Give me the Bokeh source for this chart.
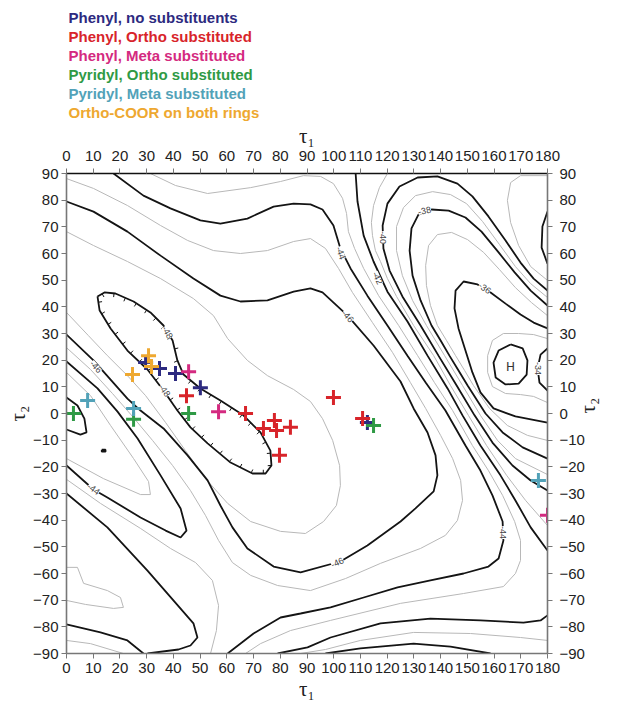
import math
from bokeh.plotting import figure
from bokeh.models import Range1d, LinearAxis, FixedTicker, Label, Title
from bokeh.embed import file_html
from bokeh.resources import INLINE

# ---------------- data (tau1, tau2 in degrees) ----------------
# energy contour lines: black = even levels (kcal/mol), grey = odd levels
m48_t1 = [11.6, 14.2, 18.3, 25.1, 31.4, 36.3, 39.7, 41.5, 43.8, 50.1, 57.6, 66.2, 72.6, 76.3, 76.7, 74.5, 69.6, 61.4, 52.8, 46.4, 41.5, 36.3, 30.3, 22.8, 16.5, 12.4, 11.6]
m48_t2 = [43.9, 45.4, 45.0, 42.0, 37.9, 33.0, 27.4, 19.9, 14.6, 9.4, 4.9, -0.7, -7.1, -13.9, -19.5, -22.5, -22.5, -18.4, -11.2, -5.2, 1.1, 8.6, 16.5, 23.6, 31.9, 38.6, 43.9]

m46a_t1 = [0, 10.1, 22.8, 35.2, 47.5, 57.6, 65.1, 75.2, 85.0, 91.3, 95.8, 105.2, 114.9, 125.0, 129.9, 135.1, 138.1, 138.8, 137.4, 130.6, 125.0, 112.6, 102.5, 87.6, 77.5, 67.7, 62.1, 57.6, 52.8, 45.3, 36.3, 27.7, 22.8, 10.1, 0]
m46a_t2 = [79.5, 75.7, 68.2, 59.2, 50.6, 44.2, 42.0, 42.4, 45.7, 46.9, 45.4, 36.7, 25.5, 12.0, 1.9, -7.1, -15.7, -23.2, -29.2, -35.6, -40.5, -49.5, -55.5, -59.6, -57.4, -50.6, -42.7, -34.5, -25.1, -15.7, -5.6, 1.1, 5.6, 19.9, 29.6]
m46b_t1 = [0, 15.3, 30.3, 40.0, 47.5, 49.0, 46.4, 41.9, 30.3]
m46b_t2 = [-30.0, -42.7, -58.9, -70.1, -78.7, -84.0, -87.0, -88.5, -90]
m46c_t1 = [0, 12.7, 22.8, 28.8]
m46c_t2 = [-79.1, -82.1, -85.1, -90]

m44a_t1 = [17.6, 28.8, 38.9, 50.1, 57.6, 67.7, 77.5, 85.0, 91.3, 95.8, 99.9, 102.5, 106.3, 112.6, 120.1, 127.6, 134.4, 141.8, 149.3, 154.9, 159.4, 163.2, 163.5, 161.7, 157.9, 148.6, 136.2, 123.9, 111.2, 98.8, 87.6, 80.1, 70.0, 60.3]
m44a_t2 = [90, 81.7, 76.9, 72.4, 71.2, 73.1, 77.6, 78.7, 78.4, 76.5, 70.5, 61.9, 54.4, 44.2, 33.0, 21.7, 11.6, 1.1, -12.0, -21.4, -30.7, -40.5, -47.6, -54.4, -57.4, -60.0, -62.6, -65.2, -69.0, -72.7, -75.0, -76.5, -82.5, -90]
m44b_t1 = [0, 11.6, 19.1, 26.6, 35.2, 42.7, 44.9, 42.7, 37.1, 27.7, 15.3, 10.1, 0]
m44b_t2 = [19.5, 9.4, 0.7, -9.4, -23.2, -35.6, -43.9, -46.5, -43.9, -39.0, -31.5, -28.5, -19.5]

m42a_t1 = [108.2, 108.9, 111.2, 114.9, 120.1, 127.6, 135.1, 142.6, 148.2, 154.9, 162.4, 168.0, 173.7, 180]
m42a_t2 = [90, 79.5, 66.7, 57.0, 45.7, 34.5, 21.7, 9.4, -0.7, -12.0, -23.2, -32.6, -42.7, -51.4]
m42b_t1 = [79.0, 90.2, 98.8, 117.5, 136.2, 154.9, 171.0, 177.4, 180]
m42b_t2 = [-90, -87.7, -84.0, -78.7, -76.9, -77.6, -78.4, -77.6, -75.7]
m42c_t1 = [0, 4.1, 6.7, 7.5, 5.2, 0]
m42c_t2 = [6.0, 3.0, -1.9, -7.1, -7.9, -6.0]
m42d_t1 = [13.2, 14.6, 14.6, 13.2, 13.2]
m42d_t2 = [-13.6, -13.6, -14.3, -14.3, -13.6]
m42e_t1 = [180, 178.1, 177.8, 180]
m42e_t2 = [75.7, 70.1, 62.2, 56.2]

m40a_t1 = [180, 174.8, 169.9, 164.3, 157.9, 151.9, 146.3, 138.8, 131.4, 124.6, 120.1, 118.3, 118.6, 120.9, 125.7, 132.5, 139.2, 146.0, 152.7, 159.4, 166.9, 173.7, 180]
m40a_t2 = [46.1, 50.6, 56.6, 64.9, 73.9, 81.4, 86.2, 88.9, 88.5, 85.1, 78.7, 70.5, 61.9, 53.6, 43.9, 33.0, 21.7, 10.5, -0.7, -10.9, -19.5, -25.1, -28.9]
m40b_t1 = [96.9, 110.0, 129.9, 143.7, 158.7]
m40b_t2 = [-90, -88.1, -86.3, -87.4, -90]

m38a_t1 = [180, 173.7, 167.7, 161.7, 155.3, 149.3, 143.0, 136.6, 131.7, 129.1, 128.4, 129.5, 132.5, 136.6, 140.0, 143.3, 146.7, 150.1, 156.8, 163.2, 170.7, 180]
m38a_t2 = [40.5, 46.1, 52.9, 60.4, 68.2, 73.5, 76.1, 76.5, 74.6, 69.4, 61.1, 51.7, 42.4, 33.0, 27.4, 21.7, 16.1, 10.5, 0.0, -7.1, -12.7, -16.9]

m36a_t1 = [180, 174.8, 169.9, 164.3, 158.7, 153.8, 148.6, 145.6, 145.2, 146.7, 149.3, 151.9, 154.9, 159.8, 168.0, 180]
m36a_t2 = [31.9, 34.1, 37.1, 41.2, 45.4, 48.4, 49.5, 46.1, 39.4, 31.9, 23.6, 15.4, 7.9, 1.9, -1.1, -3.4]

m34a_t1 = [166.2, 170.7, 172.5, 172.2, 169.2, 164.3, 160.6, 159.8, 161.7, 166.2]
m34a_t2 = [25.9, 24.4, 19.9, 14.6, 11.2, 10.9, 13.5, 19.1, 23.6, 25.9]
m34b_t1 = [180, 177.4, 176.3, 177.0, 180]
m34b_t2 = [24.4, 22.1, 16.9, 11.6, 8.6]

m47a_t1 = [0, 10.1, 22.8, 35.2, 47.5, 55.0, 60.3, 67.7, 75.2, 85.0, 91.3, 95.8, 99.6, 102.2, 102.5, 101.0, 96.2, 89.4, 80.1, 68.9, 60.3, 52.0, 44.5, 37.1, 29.6, 22.8, 15.3, 8.2, 0]
m47a_t2 = [68.2, 63.0, 57.0, 50.6, 43.1, 36.7, 28.1, 19.9, 14.2, 9.0, 4.5, -1.9, -10.1, -19.5, -27.0, -34.5, -40.5, -45.0, -44.2, -40.5, -33.7, -24.4, -13.9, -3.4, 6.7, 14.2, 21.7, 29.2, 37.9]
m47b_t1 = [0, 4.1, 6.4, 15.3, 20.2, 21.3, 17.6, 7.1, 0]
m47b_t2 = [-57.7, -57.7, -63.7, -66.4, -69.0, -72.7, -73.1, -71.6, -70.1]

m45a_t1 = [0, 10.1, 22.8, 35.2, 45.3, 55.0, 65.1, 75.2, 85.0, 91.3, 96.9, 101.8, 107.0, 114.5, 122.0, 128.7, 134.4, 140.0, 144.5, 147.5, 148.2, 146.3, 141.8, 132.5, 117.5, 104.4, 91.3, 79.0, 68.9, 62.1, 56.9, 52.0, 46.4, 39.7, 32.2, 24.7, 17.2, 9.0, 0]
m45a_t2 = [88.1, 84.4, 78.0, 70.5, 64.9, 61.1, 60.0, 61.1, 64.5, 65.6, 61.9, 54.4, 45.4, 34.1, 22.9, 11.6, 1.9, -8.2, -16.9, -25.1, -32.6, -40.1, -45.7, -50.6, -56.2, -61.9, -66.4, -64.5, -60.7, -55.9, -47.6, -38.2, -28.9, -19.5, -10.1, -1.1, 7.5, 16.5, 24.7]
m45b_t1 = [0, 12.7, 27.7, 38.9, 48.3, 54.6, 56.9, 56.1, 53.9]
m45b_t2 = [-24.7, -33.7, -43.1, -50.6, -55.9, -62.6, -72.0, -81.4, -90]
m45c_t1 = [0, 9.0, 21.3]
m45c_t2 = [-85.1, -86.3, -90]

m43a_t1 = [31.4, 40.8, 52.8, 68.9, 80.1, 88.7, 95.1, 99.9, 103.3, 104.8, 105.5, 107.8, 111.2, 116.8, 124.3, 131.4, 137.7, 144.5, 151.9, 157.9, 163.2, 167.7, 169.9, 169.9, 168.0, 163.5, 148.6, 125.0, 98.8, 83.8, 72.6, 67.0]
m43a_t2 = [90, 85.5, 82.5, 84.7, 87.0, 89.2, 88.9, 86.2, 80.7, 75.0, 68.2, 61.9, 54.4, 44.2, 33.0, 21.7, 11.6, 1.1, -12.0, -21.4, -30.7, -40.5, -47.6, -55.1, -60.0, -64.9, -67.5, -71.2, -77.6, -81.4, -86.3, -90]
m43b_t1 = [0, 9.0, 16.5, 25.1, 30.7, 31.4, 27.7, 13.8, 0]
m43b_t2 = [15.4, 6.7, -4.5, -16.9, -25.5, -30.4, -30.4, -24.4, -16.9]

m41a_t1 = [120.1, 117.1, 114.9, 114.1, 114.5, 115.6, 117.5, 120.1, 123.5, 129.9, 137.4, 143.7, 150.4, 157.2, 164.7, 171.8, 180]
m41a_t2 = [90, 84.7, 78.0, 71.6, 66.7, 61.1, 57.0, 50.6, 43.9, 33.0, 21.7, 10.5, -0.7, -12.0, -23.2, -32.6, -42.0]
m41b_t1 = [180, 169.9, 166.2, 165.0, 166.2, 169.2, 173.7, 180]
m41b_t2 = [89.2, 89.2, 86.6, 79.9, 71.6, 63.0, 55.1, 49.9]
m41c_t1 = [87.6, 96.9, 110.0, 129.9, 151.2, 169.9, 180]
m41c_t2 = [-90, -88.5, -85.1, -82.1, -82.5, -84.0, -85.1]

m39a_t1 = [180, 173.7, 168.0, 162.0, 155.7, 149.7, 143.7, 137.0, 130.6, 126.1, 123.5, 123.5, 125.7, 129.5, 134.7, 141.5, 148.2, 154.9, 161.3, 168.0, 180]
m39a_t2 = [43.5, 48.7, 55.1, 63.4, 72.0, 78.7, 82.1, 83.2, 81.7, 77.2, 70.1, 61.1, 51.7, 42.4, 33.0, 21.7, 10.5, -0.7, -10.1, -16.9, -22.9]

m37a_t1 = [180, 174.0, 168.0, 162.0, 156.1, 150.1, 144.1, 138.8, 135.5, 134.4, 134.7, 136.2, 138.8, 142.2, 145.6, 149.0, 152.3, 158.3, 165.0, 172.5, 180]
m37a_t2 = [36.7, 41.6, 47.2, 54.0, 60.4, 65.2, 67.9, 67.1, 63.0, 55.5, 48.0, 40.5, 33.0, 27.4, 21.7, 16.1, 10.5, 1.9, -4.5, -8.2, -10.1]

m35a_t1 = [180, 174.8, 169.2, 163.5, 159.4, 157.6, 157.6, 159.4, 164.3, 169.9, 174.8, 180]
m35a_t2 = [28.1, 29.6, 30.0, 30.0, 27.4, 21.7, 15.4, 10.1, 7.5, 7.1, 6.4, 4.1]

# inline contour labels: text, tau1, tau2, angle (deg)
clab_text = ["-48", "-48", "-46", "-46", "-46", "-44", "-44", "-44", "-42", "-40", "-38", "-36", "-34"]
clab_t1 = [37.7, 36.7, 11.0, 105.2, 101.4, 102.6, 10.1, 163.5, 116.4, 118.3, 134.0, 156.5, 176.3]
clab_t2 = [30.4, 8.6, 17.5, 36.4, -55.9, 60.2, -28.4, -44.6, 50.8, 66.0, 76.0, 47.0, 16.9]
clab_ang = [-60, -55, -48, -48, 25, -70, -36, -90, -65, -90, 12, -35, -90]

# markers (tau1, tau2) per group
series_names = ["Phenyl, no substituents", "Phenyl, Ortho substituted", "Phenyl, Meta substituted",
                "Pyridyl, Ortho substituted", "Pyridyl, Meta substituted", "Ortho-COOR on both rings"]
series_colors = ["#2d2a80", "#d8242a", "#d42a80", "#2f9a45", "#52a2b8", "#eea830"]
phenyl_none_t1 = [29.6, 34.8, 40.8, 50.1, 112.6]
phenyl_none_t2 = [19.1, 16.9, 15.0, 9.7, -3.4]
phenyl_ortho_t1 = [44.9, 67.0, 73.7, 77.8, 78.6, 83.8, 79.7, 99.9, 110.8]
phenyl_ortho_t2 = [6.7, 0.0, -5.6, -2.6, -6.4, -5.2, -15.7, 6.0, -1.9]
phenyl_meta_t1 = [45.7, 56.9, 180.0]
phenyl_meta_t2 = [15.7, 0.7, -38.2]
pyridyl_ortho_t1 = [2.6, 25.1, 45.7, 114.9]
pyridyl_ortho_t2 = [0.0, -2.2, 0.0, -4.5]
pyridyl_meta_t1 = [7.9, 25.1, 176.6]
pyridyl_meta_t2 = [4.9, 1.9, -25.1]
coor_t1 = [30.7, 31.8, 24.7]
coor_t2 = [21.7, 17.6, 14.6]

# local maximum marker position
hmax_t1, hmax_t2 = 166.2, 17.6

x_ticks = list(range(0, 181, 10))
y_ticks = list(range(-90, 91, 10))

# ---------------- figure ----------------
p = figure(width=617, height=711, output_backend="svg", toolbar_location=None,
           x_range=Range1d(0, 180), y_range=Range1d(-90, 90),
           min_border_left=66, min_border_right=70, min_border_top=173, min_border_bottom=58,
           x_axis_location=None, y_axis_location=None)
p.grid.visible = False
p.outline_line_color = None
p.background_fill_color = "white"
p.border_fill_color = "white"

black_lines = [(m48_t1, m48_t2), (m46a_t1, m46a_t2), (m46b_t1, m46b_t2), (m46c_t1, m46c_t2),
               (m44a_t1, m44a_t2), (m44b_t1, m44b_t2), (m42a_t1, m42a_t2), (m42b_t1, m42b_t2),
               (m42c_t1, m42c_t2), (m42d_t1, m42d_t2), (m42e_t1, m42e_t2), (m40a_t1, m40a_t2),
               (m40b_t1, m40b_t2), (m38a_t1, m38a_t2), (m36a_t1, m36a_t2), (m34a_t1, m34a_t2),
               (m34b_t1, m34b_t2)]
grey_lines = [(m47a_t1, m47a_t2), (m47b_t1, m47b_t2), (m45a_t1, m45a_t2), (m45b_t1, m45b_t2),
              (m45c_t1, m45c_t2), (m43a_t1, m43a_t2), (m43b_t1, m43b_t2), (m41a_t1, m41a_t2),
              (m41b_t1, m41b_t2), (m41c_t1, m41c_t2), (m39a_t1, m39a_t2), (m37a_t1, m37a_t2),
              (m35a_t1, m35a_t2)]

p.multi_line([g[0] for g in grey_lines], [g[1] for g in grey_lines], line_color="#b8b8b8", line_width=1.0)
p.multi_line([b[0] for b in black_lines], [b[1] for b in black_lines], line_color="#141414", line_width=1.8)

# hachures on the -48 depression contour (pointing inwards)
cx = sum(m48_t1[:-1]) / (len(m48_t1) - 1)
cy = sum(m48_t2[:-1]) / (len(m48_t2) - 1)
seg = [math.hypot(m48_t1[i + 1] - m48_t1[i], m48_t2[i + 1] - m48_t2[i]) for i in range(len(m48_t1) - 1)]
total = sum(seg)
hx0, hy0, hx1, hy1 = [], [], [], []
s = 2.0
while s < total:
    acc = 0.0
    for i, L in enumerate(seg):
        if acc + L >= s:
            f = (s - acc) / L
            x = m48_t1[i] + f * (m48_t1[i + 1] - m48_t1[i])
            y = m48_t2[i] + f * (m48_t2[i + 1] - m48_t2[i])
            nx, ny = -(m48_t2[i + 1] - m48_t2[i]) / L, (m48_t1[i + 1] - m48_t1[i]) / L
            if nx * (cx - x) + ny * (cy - y) < 0:
                nx, ny = -nx, -ny
            hx0.append(x); hy0.append(y)
            hx1.append(x + 1.4 * nx); hy1.append(y + 1.4 * ny)
            break
        acc += L
    s += 4.6
p.segment(hx0, hy0, hx1, hy1, line_color="#141414", line_width=1.0)

# inline contour labels
for t, x, y, a in zip(clab_text, clab_t1, clab_t2, clab_ang):
    p.add_layout(Label(x=x, y=y, text=t, angle=a, angle_units="deg", text_align="center",
                       text_baseline="middle", text_font_size="9px", text_color="#444444",
                       text_font="Liberation Sans", background_fill_color="white"))

# local maximum symbol
p.add_layout(Label(x=hmax_t1, y=hmax_t2, text="H", text_align="center", text_baseline="middle",
                   text_font_size="12px", text_color="#333333", text_font="DejaVu Sans"))

# markers
groups = [(phenyl_none_t1, phenyl_none_t2), (phenyl_ortho_t1, phenyl_ortho_t2),
          (phenyl_meta_t1, phenyl_meta_t2), (pyridyl_ortho_t1, pyridyl_ortho_t2),
          (pyridyl_meta_t1, pyridyl_meta_t2), (coor_t1, coor_t2)]
for (gx, gy), col in zip(groups, series_colors):
    p.scatter(gx, gy, marker="cross", size=15, line_color=col, line_width=3)

# axes on four sides
def style_axis(ax, line_col):
    ax.major_label_text_font = "Liberation Sans"
    ax.major_label_text_font_size = "15px"
    ax.major_label_text_color = "#222222"
    ax.major_tick_in = 0
    ax.major_tick_out = 5
    ax.minor_tick_line_color = None
    ax.axis_line_color = line_col
    ax.major_tick_line_color = "#777777"
    ax.axis_line_width = 1.6
    ax.axis_label_text_font = "Liberation Serif"
    ax.axis_label_text_font_style = "normal"
    ax.axis_label_text_font_size = "21px"
    ax.axis_label_text_color = "#222222"

ax_b = LinearAxis(ticker=FixedTicker(ticks=x_ticks), axis_label="τ₁")
ax_t = LinearAxis(ticker=FixedTicker(ticks=x_ticks), axis_label="τ₁")
ax_l = LinearAxis(ticker=FixedTicker(ticks=y_ticks), axis_label="τ₂")
ax_r = LinearAxis(ticker=FixedTicker(ticks=y_ticks), axis_label="τ₂")
style_axis(ax_b, "#777777")
style_axis(ax_t, "#111111")
style_axis(ax_l, "#777777")
style_axis(ax_r, "#777777")
ax_b.major_label_standoff = 4
ax_b.axis_label_standoff = 1
ax_t.major_label_standoff = 8
ax_t.axis_label_standoff = 0
ax_l.major_label_standoff = 3
ax_l.axis_label_standoff = 0
ax_r.major_label_standoff = 7
ax_r.axis_label_standoff = 0
ax_r.axis_label_orientation = math.pi / 2
p.add_layout(ax_b, "below")
p.add_layout(ax_t, "above")
p.add_layout(ax_l, "left")
p.add_layout(ax_r, "right")

# legend: coloured text lines stacked above the top axis
for name, col in reversed(list(zip(series_names, series_colors))):
    p.add_layout(Title(text=name, text_color=col, text_font="Liberation Sans", text_font_style="bold",
                       text_font_size="15px", align="left", offset=2, standoff=0), "above")

open("out.html", "w").write(file_html(p, INLINE))
